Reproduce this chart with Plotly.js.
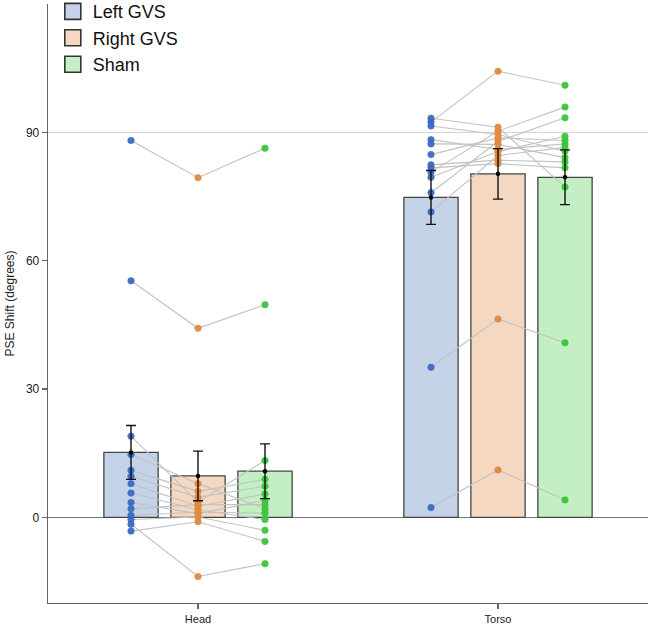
<!DOCTYPE html>
<html>
<head>
<meta charset="utf-8">
<script src="https://cdn.plot.ly/plotly-3.0.1.min.js"></script>
<style>html,body{margin:0;padding:0;background:#fff;}#chart{width:648px;height:629px;}</style>
</head>
<body>
<div id="chart"></div>
<script>
// ---- data ----
var categories = ["Head", "Torso"];
var conditions = ["Left GVS", "Right GVS", "Sham"];

// per-subject values (index = subject)
var headLeft  = [88.1, 55.3, 19.0, 14.7, 11.0, 9.6, 7.9, 5.7, 3.5, 2.0, 0.5, -0.5, -1.6, -3.2];
var headRight = [79.4, 44.2, 3.6, 7.9, 6.1, 4.7, 2.6, 1.8, 0.9, 3.0, 1.2, 0.1, -13.8, -1.0];
var headSham  = [86.3, 49.7, 13.3, 2.0, 8.9, 7.3, 5.5, -0.5, 4.0, 3.0, 1.0, -3.0, -10.8, -5.6];

var torsoLeft  = [92.4, 35.1, 2.3, 93.3, 91.5, 88.3, 87.3, 84.8, 82.4, 81.7, 80.7, 79.5, 75.9, 71.4];
var torsoRight = [104.3, 46.4, 11.1, 91.2, 89.5, 86.0, 87.2, 88.7, 83.5, 82.7, 90.3, 85.5, 87.9, 84.6];
var torsoSham  = [101.0, 40.8, 4.1, 77.2, 85.6, 87.3, 84.1, 88.1, 83.1, 81.7, 95.9, 89.1, 93.4, 86.5];

// bar means and standard errors [Head, Torso]
var meanLeft  = [15.2, 74.8];
var meanRight = [9.7, 80.3];
var meanSham  = [10.8, 79.5];
var seLeft  = [6.3, 6.3];
var seRight = [5.8, 5.9];
var seSham  = [6.4, 6.4];

var yTicks = [0, 30, 60, 90];
var refLineValue = 90;

// ---- styling ----
var barFill  = ["#c5d3e9", "#f5d8c1", "#c4eec3"];
var dotColor = ["#3a6bc2", "#e08a3f", "#3cc43c"];
var BARGAP = 0.33, BARGROUPGAP = 0.19;

var means = [meanLeft, meanRight, meanSham];
var ses = [seLeft, seRight, seSham];
var perCat = [[headLeft, headRight, headSham], [torsoLeft, torsoRight, torsoSham]];

var catPos = categories.map(function (c, i) { return i; });
var slot = (1 - BARGAP) / conditions.length;
function xPos(catIdx, condIdx) {
  return catPos[catIdx] + (condIdx - (conditions.length - 1) / 2) * slot;
}

var traces = [];

// bars
conditions.forEach(function (name, k) {
  traces.push({
    type: "bar",
    x: catPos,
    y: means[k],
    name: name,
    showlegend: false,
    marker: { color: barFill[k], line: { color: "#454545", width: 1.3 } },
    hoverinfo: "skip"
  });
});

// subject connecting lines
perCat.forEach(function (arrs, c) {
  var n = arrs[0].length;
  for (var s = 0; s < n; s++) {
    traces.push({
      type: "scatter",
      mode: "lines",
      x: conditions.map(function (_, k) { return xPos(c, k); }),
      y: arrs.map(function (a) { return a[s]; }),
      line: { color: "#c2c2c2", width: 1.1 },
      showlegend: false,
      hoverinfo: "skip"
    });
  }
});

// subject points
conditions.forEach(function (name, k) {
  var xs = [], ys = [];
  perCat.forEach(function (arrs, c) {
    arrs[k].forEach(function (v) { xs.push(xPos(c, k)); ys.push(v); });
  });
  traces.push({
    type: "scatter",
    mode: "markers",
    x: xs, y: ys,
    marker: { color: dotColor[k], size: 6.5, line: { color: dotColor[k], width: 0.6 }, opacity: 0.95 },
    showlegend: false
  });
});

// mean dots with error bars
conditions.forEach(function (name, k) {
  traces.push({
    type: "scatter",
    mode: "markers",
    x: catPos.map(function (c) { return xPos(c, k); }),
    y: means[k],
    marker: { color: "#000", size: 4.5 },
    error_y: { type: "data", array: ses[k], visible: true, color: "#111", thickness: 1.4, width: 5 },
    showlegend: false
  });
});

// legend entries
conditions.forEach(function (name, k) {
  traces.push({
    type: "scatter",
    mode: "markers",
    x: [null], y: [null],
    name: name,
    marker: { symbol: "square", size: 16, color: barFill[k], line: { color: "#333", width: 1.6 } },
    showlegend: true
  });
});

var layout = {
  width: 648, height: 629,
  margin: { l: 48, r: 0, t: 4, b: 26, autoexpand: false },
  paper_bgcolor: "#fff", plot_bgcolor: "#fff",
  font: { family: "Liberation Sans, Arial, Helvetica, sans-serif", color: "#222", size: 11 },
  barmode: "group",
  bargap: BARGAP,
  bargroupgap: BARGROUPGAP,
  showlegend: true,
  legend: {
    x: 0.008, y: 1.018, xanchor: "left", yanchor: "top",
    font: { size: 18, color: "#111" },
    bgcolor: "rgba(0,0,0,0)",
    tracegroupgap: 0,
    itemwidth: 30
  },
  xaxis: {
    range: [-0.5, 1.5],
    tickvals: catPos,
    ticktext: categories,
    showgrid: false, zeroline: false,
    showline: true, linecolor: "#666", linewidth: 1.3,
    ticks: "outside", ticklen: 5, tickcolor: "#666", tickwidth: 1.2,
    tickfont: { size: 11, color: "#222" },
    fixedrange: true
  },
  yaxis: {
    range: [-20, 120],
    tickvals: yTicks,
    showgrid: false,
    zeroline: true, zerolinecolor: "#777", zerolinewidth: 1.3,
    showline: true, linecolor: "#666", linewidth: 1.3,
    ticks: "outside", ticklen: 5, tickcolor: "#666", tickwidth: 1.2,
    tickfont: { size: 12, color: "#222" },
    title: { text: "PSE Shift (degrees)", font: { size: 12, color: "#222" }, standoff: 8 },
    fixedrange: true
  },
  shapes: [{
    type: "line", xref: "paper", x0: 0, x1: 1, yref: "y", y0: refLineValue, y1: refLineValue,
    line: { color: "#d0d0d0", width: 1 }, layer: "below"
  }]
};

Plotly.newPlot("chart", traces, layout, { staticPlot: true, displayModeBar: false });
</script>
</body>
</html>
